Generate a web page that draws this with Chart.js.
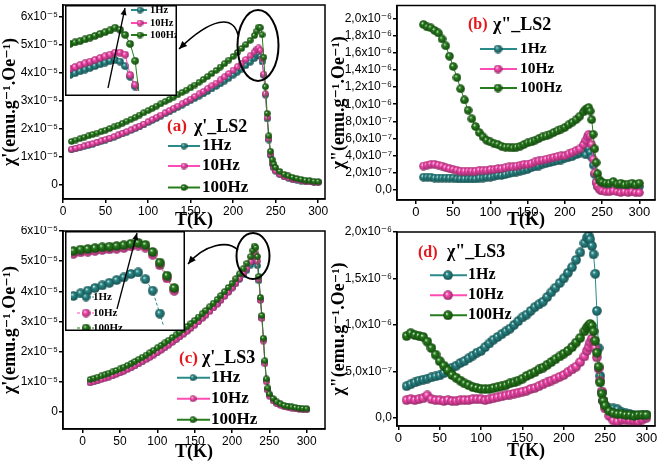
<!DOCTYPE html>
<html><head><meta charset="utf-8">
<script src="https://cdn.jsdelivr.net/npm/chart.js@4.4.1/dist/chart.umd.min.js"></script>
<style>
html,body{margin:0;padding:0;background:#fff;}
#wrap{position:relative;width:661px;height:464px;overflow:hidden;background:#fff;}
canvas{position:absolute;}
</style></head><body>
<div id="wrap">
<canvas id="cA" style="left:0;top:0" width="330" height="232"></canvas>
<canvas id="cB" style="left:330px;top:0" width="331" height="232"></canvas>
<canvas id="cC" style="left:0;top:226px" width="330" height="238"></canvas>
<canvas id="cD" style="left:330px;top:226px" width="331" height="238"></canvas>
<canvas id="iA" style="left:65px;top:5px" width="112" height="91"></canvas>
<canvas id="iC" style="left:65px;top:231px" width="120" height="100"></canvas>
</div>
<script>
// ---------------- DATA ----------------
const T = [10,15,20,25,30,35,40,45,50,55,60,65,70,75,80,85,90,95,100,105,110,115,120,125,130,135,140,145,150,155,160,165,170,175,180,185,190,195,200,205,210,215,220,225,228,230,232,234,236,238,240,242,244,246,248,250,255,260,265,270,275,280,285,290,295,300];

// Panel (a) chi' LS2, units 1e-5 emu/g/Oe
const a_1Hz = [1.25,1.29,1.33,1.37,1.41,1.45,1.50,1.55,1.60,1.65, 1.70,1.76,1.82,1.88,1.94,2.00,2.07,2.14,2.22,2.30, 2.37,2.45,2.53,2.60,2.68,2.76,2.84,2.92,3.00,3.08, 3.16,3.24,3.33,3.42,3.51,3.60,3.70,3.80,3.91,4.02, 4.13,4.25,4.37,4.50, 4.60,4.66,4.58,4.38,3.90,3.20,2.35,1.60,1.05,0.75,0.60,0.49, 0.37,0.29,0.24,0.20,0.17,0.14,0.12,0.11,0.10,0.09];
const a_10Hz = [1.27,1.31,1.35,1.39,1.43,1.47,1.52,1.57,1.62,1.67, 1.72,1.78,1.84,1.90,1.96,2.03,2.10,2.17,2.25,2.33, 2.41,2.49,2.57,2.65,2.73,2.81,2.89,2.97,3.06,3.15, 3.24,3.33,3.43,3.53,3.63,3.74,3.85,3.97,4.09,4.21, 4.34,4.47,4.60,4.74, 4.84,4.88,4.80,4.50,3.95,3.25,2.40,1.65,1.10,0.78,0.62,0.50, 0.38,0.30,0.25,0.21,0.18,0.15,0.13,0.11,0.10,0.09];
const a_100Hz = [1.55,1.60,1.65,1.70,1.75,1.80,1.85,1.90,1.95,2.01, 2.07,2.13,2.20,2.27,2.34,2.41,2.49,2.57,2.65,2.73, 2.81,2.89,2.97,3.05,3.13,3.21,3.30,3.38,3.46,3.56, 3.66,3.76,3.86,3.97,4.08,4.20,4.32,4.45,4.58,4.72, 4.86,5.00,5.15,5.32, 5.48,5.62,5.60,5.35,4.55,3.50,2.55,1.75,1.20,0.90,0.74,0.62, 0.48,0.38,0.32,0.27,0.23,0.20,0.17,0.15,0.13,0.12];

// Panel (b) chi'' LS2, units 1e-7
const b_1Hz = [1.5,1.5,1.5,1.4,1.4,1.4,1.4,1.4,1.4,1.3, 1.3,1.3,1.3,1.3,1.3,1.4,1.4,1.5,1.5,1.6, 1.7,1.7,1.8,1.9,2.0,2.1,2.2,2.3,2.4,2.6, 2.7,2.8,3.0,3.1,3.2,3.3,3.4,3.5,3.7,3.8, 3.9,4.1,4.3,4.5, 4.1,5.0,4.8,4.4,3.8,2.9,1.8,0.9,0.4,0.3,0.2,0.2, 0.2,0.2,0.3,0.2,0.3,0.3,0.2,0.3,0.4,0.4];
const b_10Hz = [2.8,2.9,3.0,3.0,2.9,2.8,2.6,2.5,2.4,2.3, 2.2,2.2,2.2,2.2,2.2,2.3,2.3,2.3,2.4,2.4, 2.5,2.5,2.6,2.7,2.7,2.8,2.9,3.0,3.0,3.1, 3.3,3.4,3.5,3.6,3.7,3.8,3.9,4.0,4.0,4.2, 4.4,4.6,4.8,5.3, 5.8,6.2,6.5,6.3,5.3,3.6,2.0,0.9,0.4,0.1,0.0,-0.1, -0.2,-0.2,-0.1,-0.2,-0.3,-0.2,-0.3,-0.2,-0.3,-0.3];
const b_100Hz = [19.3,19.0,18.9,18.6,18.3,17.6,16.8,15.6,14.4,13.1, 11.8,10.5,9.3,8.3,7.4,6.7,6.2,5.8,5.6,5.4, 5.3,5.1,5.0,5.0,4.9,5.0,5.1,5.3,5.5,5.6, 5.8,6.0,6.2,6.3,6.5,6.7,6.9,7.1,7.3,7.6, 7.9,8.2,8.6,9.1, 9.4,9.5,9.6,9.2,8.2,6.5,4.8,3.2,1.9,1.2,1.0,0.9, 0.8,0.8,1.0,0.7,0.8,0.6,0.7,0.8,0.6,0.8];

// Panel (c) chi' LS3, units 1e-5
const c_1Hz = [0.99,1.02,1.06,1.10,1.14,1.18,1.22,1.27,1.32,1.37, 1.43,1.49,1.55,1.62,1.69,1.76,1.83,1.91,1.99,2.07, 2.15,2.24,2.33,2.42,2.51,2.60,2.70,2.80,2.90,3.01, 3.12,3.23,3.35,3.47,3.59,3.72,3.85,3.98,4.12,4.26, 4.40,4.55,4.70,4.87, 5.00,5.08,5.02,4.85,4.35,3.72,3.12,2.40,1.65,1.05,0.75,0.56, 0.40,0.30,0.24,0.20,0.17,0.14,0.12,0.11,0.10,0.09];
const c_10Hz = [0.97,1.00,1.04,1.08,1.12,1.16,1.20,1.25,1.30,1.35, 1.41,1.47,1.53,1.60,1.67,1.74,1.81,1.89,1.97,2.05, 2.13,2.22,2.31,2.40,2.49,2.58,2.68,2.78,2.88,2.99, 3.10,3.21,3.33,3.45,3.57,3.70,3.83,3.97,4.11,4.26, 4.42,4.59,4.77,4.98, 5.15,5.28,5.25,5.00,4.40,3.70,3.10,2.35,1.60,1.00,0.72,0.53, 0.38,0.28,0.22,0.18,0.15,0.13,0.11,0.10,0.09,0.08];
const c_100Hz = [1.08,1.12,1.16,1.20,1.24,1.29,1.33,1.38,1.43,1.49, 1.55,1.61,1.68,1.75,1.82,1.89,1.97,2.05,2.13,2.21, 2.29,2.38,2.47,2.56,2.65,2.74,2.84,2.94,3.04,3.15, 3.26,3.37,3.49,3.61,3.73,3.86,3.99,4.13,4.27,4.42, 4.58,4.75,4.93,5.15, 5.35,5.50,5.45,5.15,4.50,3.80,3.20,2.45,1.70,1.10,0.80,0.60, 0.45,0.34,0.27,0.22,0.19,0.17,0.15,0.13,0.12,0.11];

// Panel (d) chi'' LS3, units 1e-7
const d_1Hz = [3.4,3.6,3.8,4.0,4.1,4.2,4.35,4.45,4.55,4.8, 5.1,5.4,5.6,5.9,6.1,6.4,6.7,7.0,7.2,7.6, 8.0,8.4,8.7,9.0,9.3,9.6,10.0,10.4,10.8,11.1, 11.5,11.9,12.2,12.5,13.0,13.5,14.0,14.5,15.0,15.6, 16.2,17.0,17.8,18.8, 19.4,19.6,19.2,18.5,17.6,15.5,11.5,7.5,4.5,2.8,1.8,1.3, 1.0,1.0,0.9,0.6,0.5,0.4,0.3,0.2,0.3,0.3];
const d_10Hz = [1.9,2.0,1.9,2.0,2.1,2.4,2.0,1.9,1.9,1.8, 1.9,1.8,1.8,1.9,1.9,1.9,2.0,2.0,2.0,1.9, 2.0,2.1,2.2,2.3,2.4,2.5,2.6,2.7,2.8,2.9, 3.1,3.2,3.4,3.6,3.8,4.0,4.2,4.4,4.6,4.9, 5.2,5.5,6.0,6.6, 7.2,7.6,8.1,8.5,8.2,7.5,6.5,5.3,4.0,2.8,1.8,1.0, 0.2,-0.3,-0.4,-0.2,-0.2,-0.3,-0.3,-0.4,-0.2,0.0];
const d_100Hz = [8.8,9.1,8.9,8.8,8.7,8.2,7.5,6.8,6.1,5.6, 5.1,4.6,4.3,4.0,3.7,3.5,3.3,3.2,3.1,3.1, 3.1,3.2,3.3,3.4,3.5,3.7,3.8,4.0,4.2,4.5, 4.7,4.9,5.2,5.4,5.7,6.0,6.3,6.6,6.9,7.2, 7.6,8.1,8.6,9.3, 9.7,9.9,10.1,9.9,9.3,8.3,7.0,5.5,3.8,2.6,1.8,1.3, 0.7,0.5,0.4,0.4,0.3,0.3,0.2,0.3,0.3,0.3];

// Inset of (a): zoom near the peak, units 1e-5
const insA_T = [212,214,216,218,220,222,224,226,228,230,232,234,236,238,240];
const insA_1Hz = [3.64,3.71,3.79,3.86,3.93,4.00,4.07,4.14,4.21,4.25,4.18,4.00,3.57,3.18,2.68];
const insA_10Hz = [3.89,3.96,4.04,4.11,4.18,4.25,4.32,4.39,4.46,4.54,4.54,4.46,3.64,3.25,2.68];
const insA_100Hz = [4.89,4.95,5.00,5.07,5.14,5.21,5.29,5.36,5.43,5.54,5.46,5.25,4.89,4.21,2.50];

// Inset of (c)
const insC_T = [200,203,206,209,212,215,218,221,224,227,230,233,236,239,242];
const insC_1Hz = [3.99,4.08,4.17,4.26,4.35,4.44,4.53,4.62,4.74,4.79,4.56,4.17,3.39,2.58,1.80];
const insC_10Hz = [5.43,5.48,5.50,5.53,5.56,5.58,5.60,5.63,5.68,5.71,5.64,5.40,5.04,4.59,4.17];
const insC_100Hz = [5.52,5.57,5.59,5.62,5.65,5.67,5.69,5.72,5.77,5.80,5.73,5.49,5.13,4.68,4.26];

// Tick labels
const xTicks = [0,50,100,150,200,250,300];
const yTicksAC = [0,1,2,3,4,5,6];
const yLabelsAC = ['0','1x10⁻⁵','2x10⁻⁵','3x10⁻⁵','4x10⁻⁵','5x10⁻⁵','6x10⁻⁵'];
const yTicksB = [0,2,4,6,8,10,12,14,16,18,20];
const yLabelsB = ['0,0','2,0x10⁻⁷','4,0x10⁻⁷','6,0x10⁻⁷','8,0x10⁻⁷','1,0x10⁻⁶','1,2x10⁻⁶','1,4x10⁻⁶','1,6x10⁻⁶','1,8x10⁻⁶','2,0x10⁻⁶'];
const yTicksD = [0,5,10,15,20];
const yLabelsD = ['0,0','5,0x10⁻⁷','1,0x10⁻⁶','1,5x10⁻⁶','2,0x10⁻⁶'];
const seriesNames = ['1Hz','10Hz','100Hz'];

// ---------------- STYLE ----------------
const COL = ['#2a8a8a','#ff4cb4','#267d1c'];
const SERIF = "'Liberation Serif','Times New Roman','DejaVu Serif',serif";
const SANS = "'Liberation Sans',Arial,'DejaVu Sans',sans-serif";

function darken(hex, f){
  const n = parseInt(hex.slice(1),16);
  const r=(n>>16)&255, g=(n>>8)&255, b=n&255;
  return 'rgb('+Math.round(r*f)+','+Math.round(g*f)+','+Math.round(b*f)+')';
}
const ballCache = {};
function ball(color, d){
  const k = color+d; if (ballCache[k]) return ballCache[k];
  const c = document.createElement('canvas'); c.width = c.height = d;
  const g = c.getContext('2d'); const r = d/2;
  const grd = g.createRadialGradient(r*0.72, r*0.66, 0, r, r, r);
  grd.addColorStop(0, '#ffffff');
  grd.addColorStop(0.32, color);
  grd.addColorStop(1, darken(color, 0.55));
  g.fillStyle = grd; g.beginPath(); g.arc(r, r, r-0.2, 0, Math.PI*2); g.fill();
  ballCache[k] = c; return c;
}
function ds(i, Tx, Y, d, extra){
  return Object.assign({
    label: seriesNames[i],
    data: Tx.map((t,j)=>({x:t, y:Y[j]})),
    borderColor: COL[i], backgroundColor: COL[i], borderWidth: 1,
    pointStyle: ball(COL[i], d), pointRadius: d/2, pointHoverRadius: d/2,
    order: 2 - i, tension: 0
  }, extra || {});
}

// ---------------- DECORATIONS ----------------
const DECO = {
  cA: { box:true,
    title:{x1:167, x2:194, y:127, s1:17, s2:18, t1:'(a)', t2:"χ'_LS2"},
    legend:{ys:[146,166,187.5], x1:168, x2:200, mx:184, tx:202, size:17, d:7},
    ellipse:{cx:258, cy:45.5, rx:20.5, ry:35.5},
    curve:{p0:[238,35], c1:[233,15], c2:[212,17], p1:[179,49]} },
  cB: { box:true,
    title:{x1:138, x2:163, y:25, s1:16, s2:18, t1:'(b)', t2:'χ"_LS2'},
    legend:{ys:[49,69,88], x1:150, x2:187, mx:168, tx:190, size:15.5, d:9} },
  cC: { box:true,
    title:{x1:179, x2:202, y:132.7, s1:17, s2:18, t1:'(c)', t2:"χ'_LS3"},
    legend:{ys:[151.7,172.7,193.7], x1:177, x2:210, mx:193, tx:211, size:17, d:7},
    ellipse:{cx:253, cy:30, rx:16.5, ry:23},
    curve:{p0:[238,24], c1:[228,14], c2:[205,18], p1:[188,38]} },
  cD: { box:true,
    title:{x1:88, x2:117, y:26.7, s1:16, s2:18, t1:'(d)', t2:'χ"_LS3'},
    legend:{ys:[49.3,69.3,89.3], x1:100, x2:137, mx:118, tx:138, size:16, d:10} },
  iA: { bg:true, frame:true,
    legend:{ys:[5,18,30], x1:66, x2:82, mx:75, tx:85, size:10.5, d:7},
    arrow:{p0:[43,83], p1:[60,3]} },
  iC: { bg:true, frame:true,
    legend:{ys:[66,82,97], x1:12, x2:29, mx:21, tx:28, size:11, d:9, dash:true},
    arrow:{p0:[52,78], p1:[72,2]} }
};
function head(ctx, x, y, ang, len, wid){
  ctx.beginPath(); ctx.moveTo(x,y);
  ctx.lineTo(x - len*Math.cos(ang) + wid*Math.sin(ang), y - len*Math.sin(ang) - wid*Math.cos(ang));
  ctx.lineTo(x - len*Math.cos(ang) - wid*Math.sin(ang), y - len*Math.sin(ang) + wid*Math.cos(ang));
  ctx.closePath(); ctx.fill();
}
const decoPlugin = {
  id:'deco',
  beforeDraw(chart){
    const d = DECO[chart.canvas.id]; if (!d || !d.bg) return;
    const ctx = chart.ctx; ctx.save(); ctx.fillStyle='#fff'; ctx.fillRect(0,0,chart.width,chart.height); ctx.restore();
  },
  afterDraw(chart){
    const d = DECO[chart.canvas.id]; if (!d) return;
    const ctx = chart.ctx, a = chart.chartArea;
    ctx.save();
    ctx.strokeStyle = '#000'; ctx.fillStyle = '#000';
    if (d.box){ ctx.lineWidth = 1.5; ctx.strokeRect(a.left, a.top, a.right-a.left, a.bottom-a.top); }
    if (d.ellipse){ const e=d.ellipse; ctx.lineWidth=2; ctx.beginPath(); ctx.ellipse(e.cx,e.cy,e.rx,e.ry,0,0,Math.PI*2); ctx.stroke(); }
    if (d.curve){ const c=d.curve; ctx.lineWidth=1.5; ctx.beginPath(); ctx.moveTo(c.p0[0],c.p0[1]);
      ctx.bezierCurveTo(c.c1[0],c.c1[1],c.c2[0],c.c2[1],c.p1[0],c.p1[1]); ctx.stroke();
      head(ctx, c.p1[0], c.p1[1], Math.atan2(c.p1[1]-c.c2[1], c.p1[0]-c.c2[0]), 8, 3.5); }
    if (d.arrow){ const r=d.arrow; ctx.lineWidth=1.3; ctx.beginPath(); ctx.moveTo(r.p0[0],r.p0[1]); ctx.lineTo(r.p1[0],r.p1[1]); ctx.stroke();
      head(ctx, r.p1[0], r.p1[1], Math.atan2(r.p1[1]-r.p0[1], r.p1[0]-r.p0[0]), 7, 3); }
    if (d.title){ const t=d.title; ctx.textBaseline='middle'; ctx.textAlign='left';
      ctx.fillStyle='#e3171c'; ctx.font='bold '+t.s1+'px '+SERIF; ctx.fillText(t.t1, t.x1, t.y);
      ctx.fillStyle='#000'; ctx.font='bold '+t.s2+'px '+SERIF; ctx.fillText(t.t2, t.x2, t.y); }
    if (d.legend){ const L=d.legend; ctx.textBaseline='middle'; ctx.textAlign='left';
      L.ys.forEach((y,i)=>{
        ctx.strokeStyle = COL[i]; ctx.lineWidth = L.dash ? 1 : 2;
        ctx.setLineDash(L.dash ? [3,2] : []);
        ctx.beginPath(); ctx.moveTo(L.x1, y); ctx.lineTo(L.x2, y); ctx.stroke();
        ctx.setLineDash([]);
        const b = ball(COL[i], L.d); ctx.drawImage(b, L.mx - L.d/2, y - L.d/2);
        ctx.fillStyle='#000'; ctx.font='bold '+L.size+'px '+SERIF; ctx.fillText(seriesNames[i], L.tx, y);
      }); }
    if (d.frame){ ctx.strokeStyle='#000'; ctx.lineWidth=1.5; ctx.strokeRect(0.75,0.75,chart.width-1.5,chart.height-1.5); }
    ctx.restore();
  }
};

// ---------------- CHARTS ----------------
function panel(id, o){
  return new Chart(document.getElementById(id), {
    type:'line',
    data:{datasets:o.datasets},
    options:{
      responsive:false, animation:false, devicePixelRatio:1,
      layout:{padding:{top:o.padTop, right:o.padRight, left:0, bottom:0}},
      plugins:{legend:{display:false}, tooltip:{enabled:false}},
      scales:{
        x:{type:'linear', min:o.xmin, max:o.xmax,
          afterFit(s){ s.height=o.xh; s.paddingLeft=0; s.paddingRight=0; },
          afterBuildTicks(s){ s.ticks = xTicks.map(v=>({value:v})); },
          ticks:{autoSkip:false, maxRotation:0, padding:1, color:'#000', font:{family:SANS, size:o.tickSize}, callback:v=>String(v)},
          grid:{drawOnChartArea:false, drawTicks:true, tickLength:4, color:'#000', lineWidth:1.5},
          border:{display:true, color:'#000', width:1.5},
          title:{display:true, text:'T(K)', color:'#000', font:{family:SERIF, size:18, weight:'bold', lineHeight:1.1}, padding:{top:0, bottom:o.xtPad}}},
        y:{type:'linear', min:o.ymin, max:o.ymax,
          afterFit(s){ s.width=o.yw; s.paddingTop=0; s.paddingBottom=0; },
          afterBuildTicks(s){ s.ticks = o.yVals.map(v=>({value:v})); },
          ticks:{autoSkip:false, padding:1, color:'#000', font:{family:SANS, size:o.yTickSize}, callback:v=>o.yLabels[o.yVals.indexOf(v)]},
          grid:{drawOnChartArea:false, drawTicks:true, tickLength:4, color:'#000', lineWidth:1.5},
          border:{display:true, color:'#000', width:1.5},
          title:{display:true, text:o.ytitle, color:'#000', font:{family:SERIF, size:18, weight:'bold', lineHeight:1.1}, padding:{top:o.ytPad||0, bottom:0}}}
      }
    },
    plugins:[decoPlugin]
  });
}
function inset(id, o){
  return new Chart(document.getElementById(id), {
    type:'line',
    data:{datasets:o.datasets},
    options:{
      responsive:false, animation:false, devicePixelRatio:1,
      layout:{padding:0},
      plugins:{legend:{display:false}, tooltip:{enabled:false}},
      scales:{ x:{type:'linear', display:false, min:o.xmin, max:o.xmax}, y:{type:'linear', display:false, min:o.ymin, max:o.ymax} }
    },
    plugins:[decoPlugin]
  });
}

panel('cA', {padTop:5, padRight:5, yw:63, xh:33, xtPad:2, tickSize:12, yTickSize:12, xmin:0, xmax:308, ymin:-0.5, ymax:6.41,
  yVals:yTicksAC, yLabels:yLabelsAC, ytitle:"χ'(emu.g⁻¹.Oe⁻¹)",
  datasets:[ds(0,T,a_1Hz,7), ds(1,T,a_10Hz,7), ds(2,T,a_100Hz,7)]});
panel('cB', {padTop:4, padRight:6, yw:67, xh:32, xtPad:2, tickSize:13, yTickSize:12, ytPad:-1, xmin:-25.5, xmax:321, ymin:-1.16, ymax:21.5,
  yVals:yTicksB, yLabels:yLabelsB, ytitle:'χ"(emu.g⁻¹.Oe⁻¹)',
  datasets:[ds(0,T,b_1Hz,9), ds(1,T,b_10Hz,9), ds(2,T,b_100Hz,9)]});
panel('cC', {padTop:5, padRight:5, yw:63, xh:35, xtPad:2, tickSize:12, yTickSize:12, xmin:-26.4, xmax:324.5, ymin:-0.56, ymax:6.0,
  yVals:yTicksAC, yLabels:yLabelsAC, ytitle:"χ'(emu.g⁻¹.Oe⁻¹)",
  datasets:[ds(0,T,c_1Hz,7), ds(1,T,c_10Hz,7), ds(2,T,c_100Hz,7)]});
panel('cD', {padTop:6, padRight:3, yw:67, xh:38, xtPad:2.5, tickSize:13, yTickSize:12, ytPad:-1, xmin:-1.6, xmax:310.3, ymin:-0.89, ymax:20,
  yVals:yTicksD, yLabels:yLabelsD, ytitle:'χ"(emu.g⁻¹.Oe⁻¹)',
  datasets:[ds(0,T,d_1Hz,10), ds(1,T,d_10Hz,10), ds(2,T,d_100Hz,10)]});

inset('iA', {xmin:212, xmax:252.7, ymin:3.0, ymax:6.25,
  datasets:[ds(0,insA_T,insA_1Hz,8,{clip:0}), ds(1,insA_T,insA_10Hz,8,{clip:0}), ds(2,insA_T,insA_100Hz,8,{clip:0})]});
inset('iC', {xmin:199, xmax:244, ymin:3.0, ymax:6.0,
  datasets:[ds(0,insC_T,insC_1Hz,10,{clip:0, borderDash:[3,2]}), ds(1,insC_T,insC_10Hz,10,{clip:0, borderDash:[3,2]}), ds(2,insC_T,insC_100Hz,10,{clip:0, borderDash:[3,2]})]});
</script>
</body></html>
